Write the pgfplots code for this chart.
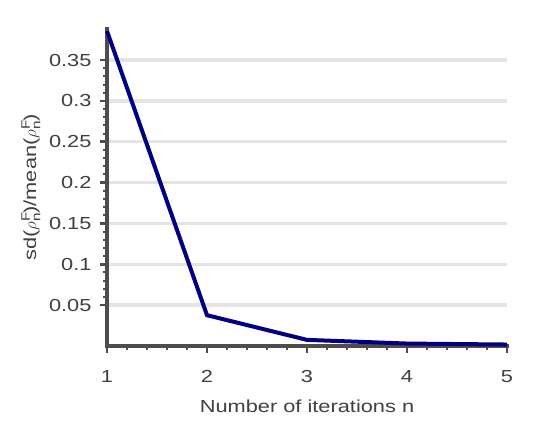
\documentclass[border=0pt]{standalone}
\usepackage{fontspec}
\setmainfont{Liberation Sans}[FakeStretch=1.25]
\usepackage{pgfplots}
\pgfplotsset{compat=1.18}
\definecolor{axgray}{RGB}{77,77,77}
\definecolor{txtgray}{RGB}{64,64,64}
\definecolor{gridgray}{RGB}{228,228,228}
\definecolor{navyline}{RGB}{0,0,128}
\begin{document}
\begin{tikzpicture}[x=1bp,y=1bp]
\useasboundingbox (0,0) rectangle (560,420);
\begin{axis}[
  at={(107bp,74bp)}, anchor=origin,
  scale only axis, width=400bp, height=317bp,
  xmin=1, xmax=5, ymin=0, ymax=0.388,
  axis lines*=left,
  axis line style={axgray, line width=4bp, shorten <=-2bp, shorten >=-2bp},
  xtick={1,2,3,4,5},
  ytick={0.05,0.1,0.15,0.2,0.25,0.3,0.35},
  yticklabels={0.05,0.1,0.15,0.2,0.25,0.3,0.35},
  minor x tick num=4, minor y tick num=4,
  tick align=outside,
  major tick length=7bp, minor tick length=4bp,
  tick style={axgray, line width=2.5bp},
  minor tick style={axgray, line width=2bp},
  ymajorgrids,
  major grid style={gridgray, line width=3.5bp},
  /pgf/number format/assume math mode=true,
  ticklabel style={font=\fontsize{17.5}{21}\selectfont, text=txtgray},
  xticklabel style={yshift=-14bp},
  yticklabel style={xshift=-5bp},
  xlabel={Number of iterations n},
  every axis x label/.style={at={(axis description cs:0.5,-0.19)}, anchor=center,
    font=\fontsize{17.5}{21}\selectfont, text=txtgray},
  ylabel={sd($\rho^{\mathrm{F}}_{\mathrm{n}}$)/mean($\rho^{\mathrm{F}}_{\mathrm{n}}$)},
  every axis y label/.style={at={(axis description cs:-0.19,0.5)}, rotate=90, anchor=center,
    font=\fontsize{17.5}{21}\selectfont, text=txtgray},
  clip=false,
]
\addplot[navyline, line width=4bp] coordinates {
  (1,0.3855) (2,0.0377) (3,0.0075) (4,0.0030) (5,0.0018)};
\end{axis}
\end{tikzpicture}
\end{document}
